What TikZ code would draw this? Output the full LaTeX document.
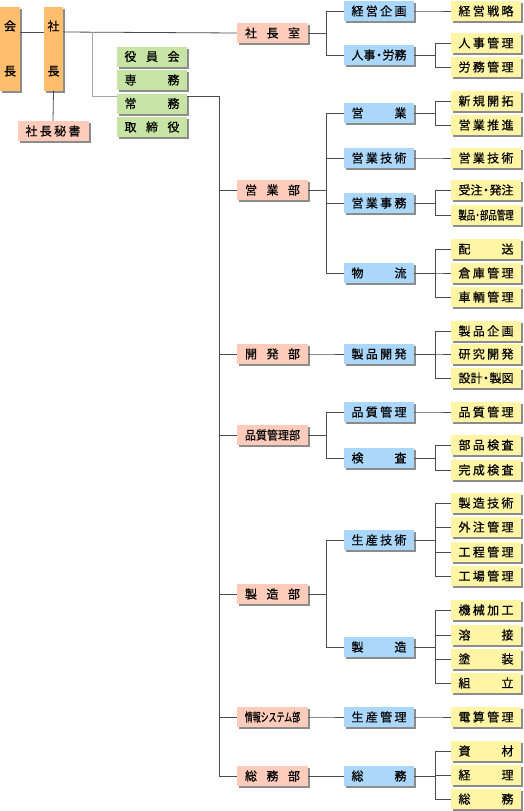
\documentclass[tikz,border=0pt]{standalone}
\usepackage{fontspec}
\usepackage{graphicx}
\setmainfont[FakeBold=0.6]{Noto Sans CJK JP}
\usetikzlibrary{shadows}

\definecolor{chairfill}{HTML}{FFBD6E}
\definecolor{deptfill}{HTML}{FFCCBB}
\definecolor{boardfill}{HTML}{C8E4A5}
\definecolor{sectfill}{HTML}{AAD7FA}
\definecolor{unitfill}{HTML}{FFF5A5}

% spread the characters of a label over the box
\makeatletter
\newcommand\spread[1]{\makebox[55pt][s]{\spr@first#1\relax}}
\def\spr@first#1{\ifx\relax#1\else#1\expandafter\spr@next\fi}
\def\spr@next#1{\ifx\relax#1\else\hfil#1\expandafter\spr@next\fi}
\makeatother
\newcommand\nakaten{\makebox[7pt]{・}}

\begin{document}
\begin{tikzpicture}[x=1pt, y=-1pt, font=\fontsize{12}{12}\selectfont,
  box/.style={minimum height=20pt, inner sep=0pt,
    drop shadow={shadow xshift=2pt, shadow yshift=-2pt, fill=black!45, opacity=1}},
  chair/.style={box, fill=chairfill, minimum width=20pt, minimum height=84pt, align=center},
  dept/.style={box, fill=deptfill, minimum width=71pt},
  board/.style={box, fill=boardfill, minimum width=70pt},
  sect/.style={box, fill=sectfill, minimum width=70pt},
  unit/.style={box, fill=unitfill, minimum width=70pt},
  link/.style={draw=black!70, line width=0.8pt},
  thin link/.style={draw=black!35, line width=0.8pt}]
  \useasboundingbox (0,0) rectangle (523,811);

  % top
  \node[chair] (kaicho) at (10,48.5) {会\\[33pt]長};
  \node[chair, minimum width=19pt] (shacho) at (53.5,48.5) {社\\[33pt]長};
  \node[dept] (hisho) at (53,131) {\spread{社長秘書}};
  \node[board] (yakuin) at (152,56.5) {\spread{役員会}};
  \node[board] (senmu) at (152,80) {\spread{専務}};
  \node[board] (jomu) at (152,103.5) {\spread{常務}};
  \node[board] (torishimari) at (152,127) {\spread{取締役}};

  % departments
  \node[dept] (shitsu) at (272.5,33) {\spread{社長室}};
  \node[dept] (eigyobu) at (272.5,190) {\spread{営業部}};
  \node[dept] (kaihatsubu) at (272.5,354) {\spread{開発部}};
  \node[dept] (hinshitsubu) at (272.5,435) {\scalebox{0.92}[1]{品質管理部}};
  \node[dept] (seizobu) at (272.5,594) {\spread{製造部}};
  \node[dept] (johobu) at (272.5,717) {\scalebox{0.66}[1]{情報システム部}};
  \node[dept] (somubu) at (272.5,776) {\spread{総務部}};

  % sections
  \node[sect] (keiei) at (379,11) {\spread{経営企画}};
  \node[sect] (jinji) at (379,55) {\makebox[55pt][s]{人事\nakaten 労務}};
  \node[sect] (eigyo) at (379,113) {\spread{営業}};
  \node[sect] (eigyogi) at (379,158) {\spread{営業技術}};
  \node[sect] (eigyoji) at (379,203) {\spread{営業事務}};
  \node[sect] (butsuryu) at (379,273) {\spread{物流}};
  \node[sect] (seihin) at (379,354) {\spread{製品開発}};
  \node[sect] (hinkan) at (379,412) {\spread{品質管理}};
  \node[sect] (kensa) at (379,458) {\spread{検査}};
  \node[sect] (seisangi) at (379,540) {\spread{生産技術}};
  \node[sect] (seizo) at (379,647) {\spread{製造}};
  \node[sect] (seisankan) at (379,717) {\spread{生産管理}};
  \node[sect] (somu) at (379,776) {\spread{総務}};

  % units
  \node[unit] (senryaku) at (486,11) {\spread{経営戦略}};
  \node[unit] (jinjikan) at (486,43) {\spread{人事管理}};
  \node[unit] (romukan) at (486,67) {\spread{労務管理}};
  \node[unit] (shinki) at (486,101) {\spread{新規開拓}};
  \node[unit] (suishin) at (486,125) {\spread{営業推進}};
  \node[unit] (gijutsu) at (486,158) {\spread{営業技術}};
  \node[unit] (juchu) at (486,190) {\makebox[55pt][s]{受注\nakaten 発注}};
  \node[unit] (buhinkan) at (486,215) {\scalebox{0.7}[1]{製品\nakaten 部品管理}};
  \node[unit] (haiso) at (486,249) {\spread{配送}};
  \node[unit] (soko) at (486,273) {\spread{倉庫管理}};
  \node[unit] (sharyo) at (486,297) {\spread{車輌管理}};
  \node[unit] (kikaku) at (486,331) {\spread{製品企画}};
  \node[unit] (kenkyu) at (486,354) {\spread{研究開発}};
  \node[unit] (sekkei) at (486,378) {\makebox[55pt][s]{設計\nakaten 製図}};
  \node[unit] (hinkanu) at (486,412) {\spread{品質管理}};
  \node[unit] (buhinken) at (486,445) {\spread{部品検査}};
  \node[unit] (kansei) at (486,470) {\spread{完成検査}};
  \node[unit] (seizogi) at (486,503) {\spread{製造技術}};
  \node[unit] (gaichu) at (486,527) {\spread{外注管理}};
  \node[unit] (kotei) at (486,552) {\spread{工程管理}};
  \node[unit] (kojo) at (486,576) {\spread{工場管理}};
  \node[unit] (kikai) at (486,610) {\spread{機械加工}};
  \node[unit] (yosetsu) at (486,635) {\spread{溶接}};
  \node[unit] (toso) at (486,659) {\spread{塗装}};
  \node[unit] (kumitate) at (486,683) {\spread{組立}};
  \node[unit] (densan) at (486,717) {\spread{電算管理}};
  \node[unit] (shizai) at (486,751) {\spread{資材}};
  \node[unit] (keiri) at (486,775) {\spread{経理}};
  \node[unit] (somuka) at (486,799) {\spread{総務}};

  % connectors
  \coordinate (branch) at (92,32);
  \coordinate (trunk) at (219,96);
  \draw[link] (kaicho.east |- branch) -- (shacho.west |- branch);
  \draw[link] (shacho.east |- branch) -- (shitsu.west);
  \draw[link] (shacho.south) -- (hisho.north);
  \draw[thin link] (branch) |- (jomu.west |- trunk);
  \draw[link] (jomu.east |- trunk) -- (trunk) -- (trunk |- somubu.west);
  \foreach \d in {eigyobu, kaihatsubu, hinshitsubu, seizobu, johobu, somubu}
    \draw[link] (trunk |- \d.west) -- (\d.west);
  \foreach \d/\s in {shitsu/keiei, shitsu/jinji, eigyobu/eigyo, eigyobu/eigyogi,
      eigyobu/eigyoji, eigyobu/butsuryu, kaihatsubu/seihin, hinshitsubu/hinkan,
      hinshitsubu/kensa, seizobu/seisangi, seizobu/seizo, johobu/seisankan, somubu/somu}
    \draw[link] (\d.east) -- ++(18,0) |- (\s.west);
  \foreach \s/\u in {keiei/senryaku, jinji/jinjikan, jinji/romukan, eigyo/shinki,
      eigyo/suishin, eigyogi/gijutsu, eigyoji/juchu, eigyoji/buhinkan,
      butsuryu/haiso, butsuryu/soko, butsuryu/sharyo, seihin/kikaku, seihin/kenkyu,
      seihin/sekkei, hinkan/hinkanu, kensa/buhinken, kensa/kansei,
      seisangi/seizogi, seisangi/gaichu, seisangi/kotei, seisangi/kojo,
      seizo/kikai, seizo/yosetsu, seizo/toso, seizo/kumitate,
      seisankan/densan, somu/shizai, somu/keiri, somu/somuka}
    \draw[link] (\s.east) -- ++(21,0) |- (\u.west);
\end{tikzpicture}
\end{document}
